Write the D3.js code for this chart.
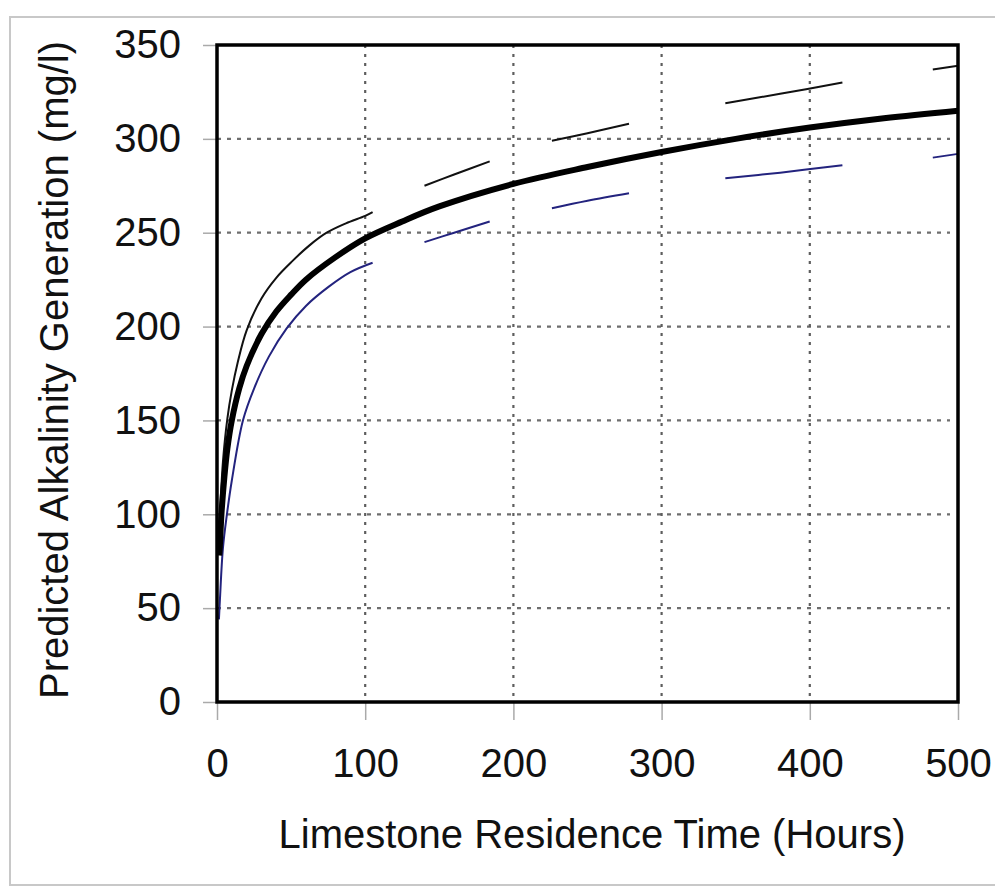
<!DOCTYPE html>
<html>
<head>
<meta charset="utf-8">
<script src="https://cdn.jsdelivr.net/npm/d3@7"></script>
<style>
  body { margin: 0; background: #fff; }
  text { font-family: "Liberation Sans", Arial, sans-serif; fill: #111; }
</style>
</head>
<body>
<div id="chart"></div>
<script>
const width = 995, height = 890;

// tick values
const xTicks = [0, 100, 200, 300, 400, 500];
const yTicks = [0, 50, 100, 150, 200, 250, 300, 350];
const xGrid = [100, 200, 300, 400];
const yGrid = [50, 100, 150, 200, 250, 300];

// residence time (hours) vs predicted alkalinity (mg/l)
const midHours = [1.5, 2, 3, 5, 7, 10, 15, 20, 30, 40, 50, 60, 80, 100, 125, 150, 200, 250, 300, 350, 400, 450, 500];
const midAlk   = [78, 84, 100, 120, 135, 150, 167, 179, 196, 208, 217, 225, 237, 247, 256, 264, 276, 285, 293, 300, 306, 311, 315];

const upperHours = [1, 2, 4, 7, 10, 14, 20, 30, 40, 51, 62, 74, 87, 100, 105, 125, 140, 160, 184, 205, 226, 250, 278, 310, 343, 380, 422, 450, 483, 500];
const upperAlk   = [85, 100, 128, 151, 166, 181, 198, 215, 226, 235, 243, 250, 255, 259, 261, 268, 275, 281, 288, 294, 299, 303, 308, 314, 319, 324, 330, 333, 337, 339];

const lowerHours = [1.3, 2, 4, 6.7, 10, 17.5, 25, 35, 47, 60, 75, 90, 105, 125, 140, 160, 184, 205, 226, 250, 278, 310, 343, 380, 422, 450, 483, 500];
const lowerAlk   = [44, 55, 82, 100, 118, 150, 167, 184, 199, 211, 221, 229, 234, 241, 245, 250, 256, 259, 263, 267, 271, 275, 279, 282, 286, 288, 290, 292];

// hour spans where the long-dash bounds are drawn
const dashRanges = [[0, 105], [140, 184], [226, 278], [343, 422], [483, 500]];

const zip = (xs, ys) => xs.map((t, i) => ({ t: t, v: ys[i] }));

const svg = d3.select("#chart").append("svg")
    .attr("width", width)
    .attr("height", height);

// light outer frame
svg.append("rect")
    .attr("x", 10).attr("y", 17)
    .attr("width", 1000).attr("height", 868)
    .attr("fill", "none")
    .attr("stroke", "#c8c8c8")
    .attr("stroke-width", 2);

const x = d3.scaleLinear().domain([0, 500]).range([217, 958]);
const y = d3.scaleLinear().domain([0, 350]).range([702, 45]);

// grid
svg.append("g").selectAll("line")
    .data(yGrid)
    .join("line")
    .attr("x1", x(0)).attr("x2", x(500) - 8)
    .attr("y1", d => y(d)).attr("y2", d => y(d))
    .attr("stroke", "#6e6e6e")
    .attr("stroke-width", 2.2)
    .attr("stroke-dasharray", "4,6");

svg.append("g").selectAll("line")
    .data(xGrid)
    .join("line")
    .attr("x1", d => x(d)).attr("x2", d => x(d))
    .attr("y1", y(350)).attr("y2", y(0))
    .attr("stroke", "#5e5e5e")
    .attr("stroke-width", 2.2)
    .attr("stroke-dasharray", "3,6");

// axes
const yAxis = svg.append("g")
    .attr("transform", `translate(${x(0)},0)`)
    .call(d3.axisLeft(y).tickValues(yTicks).tickSize(14).tickPadding(22));

const xAxis = svg.append("g")
    .attr("transform", `translate(0,${y(0)})`)
    .call(d3.axisBottom(x).tickValues(xTicks).tickSize(18).tickPadding(29));

[yAxis, xAxis].forEach(g => {
    g.select(".domain").remove();
    g.selectAll(".tick line").attr("stroke", "#aaa").attr("stroke-width", 1.5);
    g.selectAll(".tick text")
        .attr("font-size", 40)
        .attr("font-family", "Liberation Sans, Arial, sans-serif")
        .attr("fill", "#111");
});

// curves
const inDash = t => dashRanges.some(r => t >= r[0] && t <= r[1]);

const line = d3.line()
    .x(d => x(d.t))
    .y(d => y(d.v))
    .curve(d3.curveCatmullRom.alpha(0.5));

const dashedLine = d3.line()
    .defined(d => inDash(d.t))
    .x(d => x(d.t))
    .y(d => y(d.v))
    .curve(d3.curveCatmullRom.alpha(0.5));

svg.append("path")
    .datum(zip(lowerHours, lowerAlk))
    .attr("d", dashedLine)
    .attr("fill", "none")
    .attr("stroke", "#23237e")
    .attr("stroke-width", 2);

svg.append("path")
    .datum(zip(upperHours, upperAlk))
    .attr("d", dashedLine)
    .attr("fill", "none")
    .attr("stroke", "#111")
    .attr("stroke-width", 2);

svg.append("path")
    .datum(zip(midHours, midAlk))
    .attr("d", line)
    .attr("fill", "none")
    .attr("stroke", "#000")
    .attr("stroke-width", 6)
    .attr("stroke-linejoin", "round");

// plot frame
svg.append("rect")
    .attr("x", x(0)).attr("y", y(350))
    .attr("width", x(500) - x(0))
    .attr("height", y(0) - y(350))
    .attr("fill", "none")
    .attr("stroke", "#000")
    .attr("stroke-width", 3.5);

// axis titles
svg.append("text")
    .attr("x", 592)
    .attr("y", 848)
    .attr("text-anchor", "middle")
    .attr("font-size", 40)
    .text("Limestone Residence Time (Hours)");

svg.append("text")
    .attr("transform", "translate(68,370) rotate(-90)")
    .attr("text-anchor", "middle")
    .attr("font-size", 40)
    .text("Predicted Alkalinity Generation (mg/l)");
</script>
</body>
</html>
